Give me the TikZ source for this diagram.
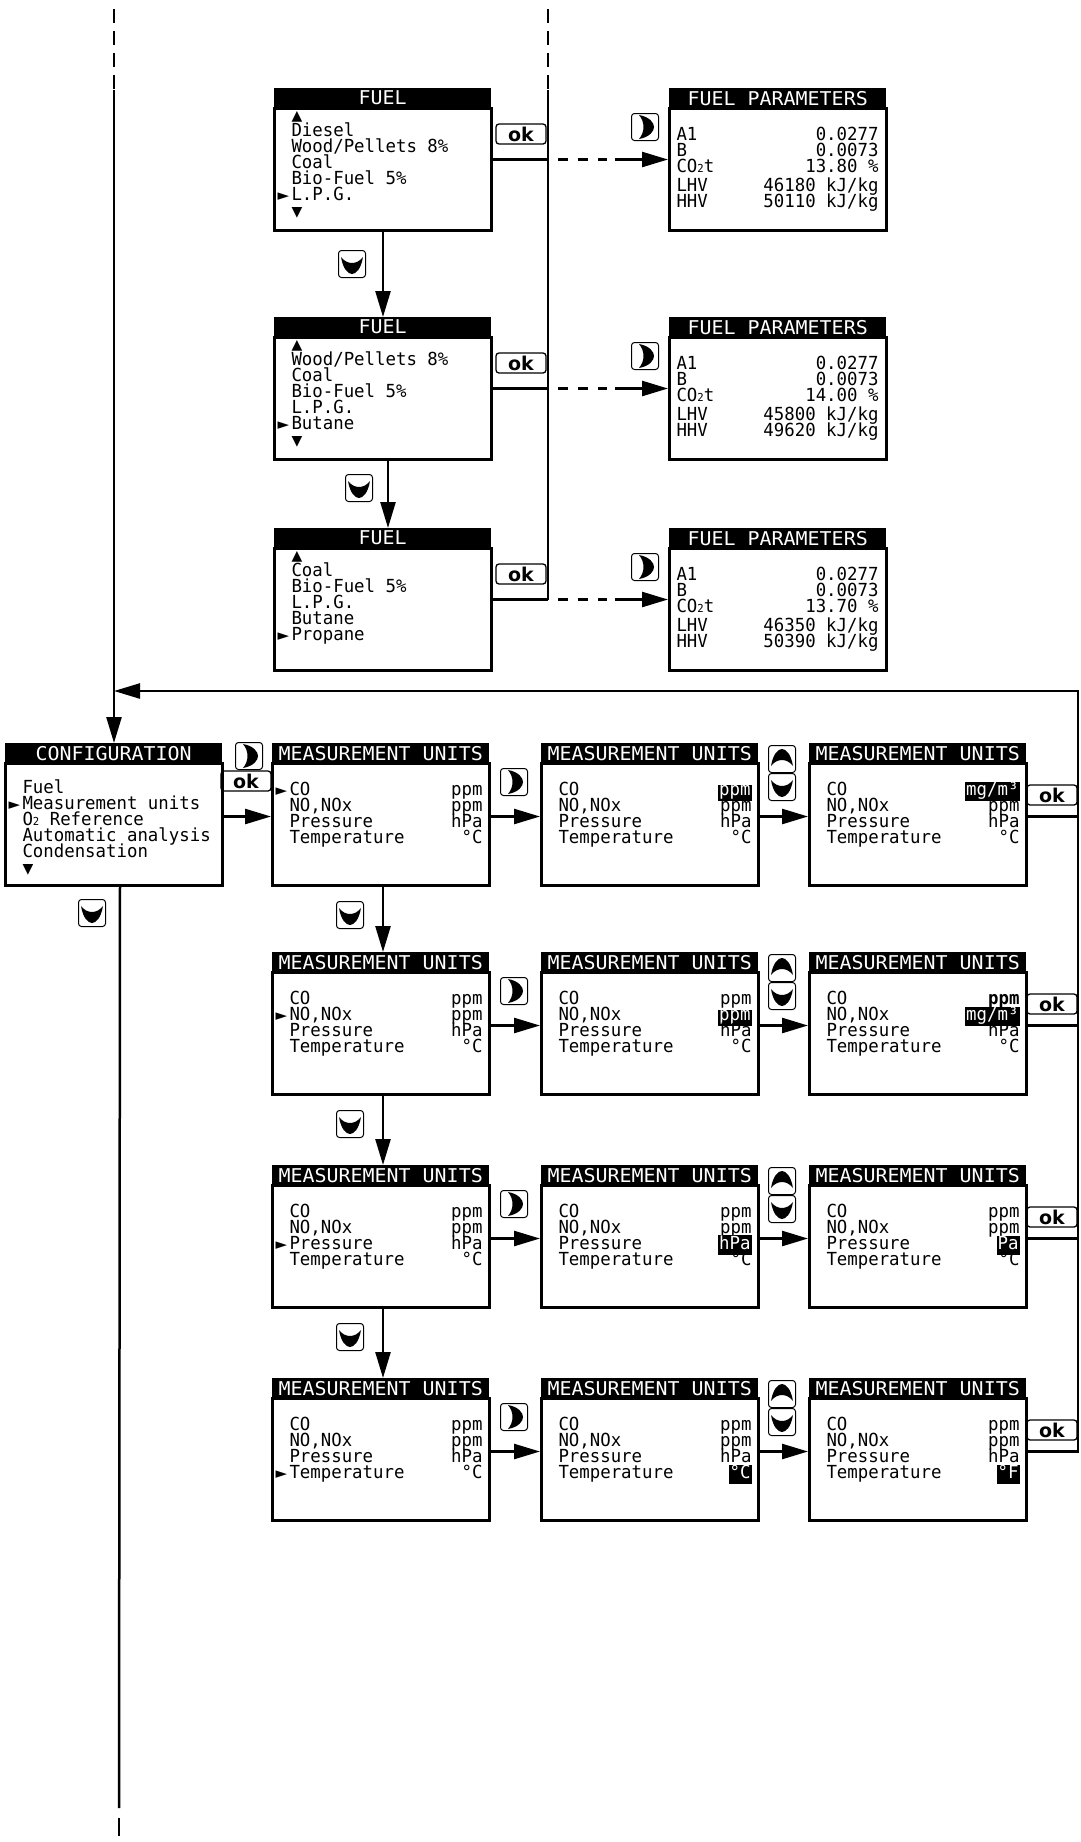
\documentclass[tikz,border=0pt]{standalone}
\usepackage{fontspec}
\usepackage{tikz}
\usetikzlibrary{arrows.meta}
\newfontfamily\lcdfont[FakeStretch=0.965]{DejaVu Sans Mono}
\newfontfamily\lcdhead[FakeStretch=1.05]{DejaVu Sans Mono}
\newfontfamily\symfont{DejaVu Sans}
\newfontfamily\keyfont{DejaVu Sans}

\newcommand*{\arrup}{{\symfont\fontsize{14}{14}\selectfont ▲}}
\newcommand*{\arrdn}{{\symfont\fontsize{14}{14}\selectfont ▼}}
\newcommand*{\curs}{{\symfont\fontsize{15}{15}\selectfont ►}}
\newcommand*{\subtwo}{{\fontsize{11}{11}\selectfont 2}}
\newcommand*{\inv}[1]{{\setlength{\fboxsep}{1pt}\smash{\colorbox{black}{\rule[-4pt]{0pt}{13pt}\textcolor{white}{#1}}}}}
\newcommand*{\scrline}[3]{\mbox{}\hspace*{3pt}\makebox[207pt][l]{\rule[-3pt]{0pt}{13pt}\makebox[14pt][l]{#1}#2\hfill#3}\par}
\newcommand*{\parline}[2]{\mbox{}\hspace*{7pt}\makebox[202pt][l]{\rule[-3pt]{0pt}{13pt}#1\hfill#2}\par}
% name, x, y (top of title), title, top gap, lines
\newcommand{\lcdscreen}[6]{%
  \node (#1) at (#2,#3+19) [scrbody] {\parbox[t][122pt][t]{217pt}{\lineskiplimit=-100pt\parskip=0pt\vspace*{#5pt}#6}};
  \node (#1t) at (#2+1,#3) [scrhead] {#4};
}
% name, x, y, cursor line, four units
\newcommand{\muscreen}[8]{%
  \lcdscreen{#1}{#2}{#3}{MEASUREMENT UNITS}{19}{%
    \scrline{\ifnum#4=1 \curs\fi}{CO}{#5}
    \scrline{\ifnum#4=2 \curs\fi}{NO,NOx}{#6}
    \scrline{\ifnum#4=3 \curs\fi}{Pressure}{#7}
    \scrline{\ifnum#4=4 \curs\fi}{Temperature}{#8}}%
}
% keys
\newcommand*{\rkey}[2]{%
  \node (#1) at (#2) [keybox] {};
  \fill[shift={(#1.center)}] (-6,-12) .. controls (5,-10) and (9,-4) .. (9,0)
    .. controls (9,4) and (5,10) .. (-6,12) .. controls (0,5) and (0,-5) .. cycle;
}
\newcommand*{\dnkey}[2]{%
  \node (#1) at (#2) [keybox] {};
  \fill[shift={(#1.center)}] (-11,-7) .. controls (-9,5) and (-4,10) .. (0,10)
    .. controls (4,10) and (9,5) .. (11,-7) .. controls (5,1) and (-5,1) .. cycle;
}
\newcommand*{\upkey}[2]{%
  \node (#1) at (#2) [keybox] {};
  \fill[shift={(#1.center)}] (-11,7) .. controls (-9,-5) and (-4,-10) .. (0,-10)
    .. controls (4,-10) and (9,-5) .. (11,7) .. controls (5,-1) and (-5,-1) .. cycle;
}

\begin{document}
\begin{tikzpicture}[
   x=1pt, y=-1pt,
   conn/.style={line width=2.5pt},
   arrow/.style={conn, -{Triangle[length=26pt, width=15pt]}},
   dashtop/.style={conn, dash pattern=on 14pt off 8pt},
   scrbody/.style={draw, line width=3pt, anchor=north west, inner sep=0pt,
                   font={\lcdfont\fontsize{18}{16}\selectfont}},
   scrhead/.style={fill=black, text=white, anchor=north west, inner sep=0pt,
                   minimum width=217, minimum height=20,
                   font={\lcdhead\fontsize{19}{19}\selectfont}},
   keybox/.style={draw, line width=1pt, rounded corners=3pt, minimum size=27, inner sep=0pt},
   okbtn/.style={draw, line width=1.3pt, rounded corners=3pt, minimum width=50,
                 minimum height=20, inner sep=0pt,
                 font={\keyfont\bfseries\fontsize{19}{19}\selectfont}}
  ]

  \useasboundingbox (0,0) rectangle (1080,1842);

  % Fuel screens
  \lcdscreen{fuelA}{273}{88}{FUEL}{2}{%
    \scrline{}{\arrup}{}
    \scrline{}{Diesel}{}
    \scrline{}{Wood/Pellets 8\%}{}
    \scrline{}{Coal}{}
    \scrline{}{Bio-Fuel 5\%}{}
    \scrline{\curs}{L.P.G.}{}
    \scrline{}{\arrdn}{}}
  \lcdscreen{fuelB}{273}{317}{FUEL}{2}{%
    \scrline{}{\arrup}{}
    \scrline{}{Wood/Pellets 8\%}{}
    \scrline{}{Coal}{}
    \scrline{}{Bio-Fuel 5\%}{}
    \scrline{}{L.P.G.}{}
    \scrline{\curs}{Butane}{}
    \scrline{}{\arrdn}{}}
  \lcdscreen{fuelC}{273}{528}{FUEL}{2}{%
    \scrline{}{\arrup}{}
    \scrline{}{Coal}{}
    \scrline{}{Bio-Fuel 5\%}{}
    \scrline{}{L.P.G.}{}
    \scrline{}{Butane}{}
    \scrline{\curs}{Propane}{}}

  \lcdscreen{parA}{668}{88}{FUEL PARAMETERS}{19}{%
    \parline{A1}{0.0277}
    \parline{B}{0.0073}
    \parline{CO\subtwo t}{13.80 \%}
    \vspace{3pt}
    \parline{LHV}{46180 kJ/kg}
    \parline{HHV}{50110 kJ/kg}}
  \lcdscreen{parB}{668}{317}{FUEL PARAMETERS}{19}{%
    \parline{A1}{0.0277}
    \parline{B}{0.0073}
    \parline{CO\subtwo t}{14.00 \%}
    \vspace{3pt}
    \parline{LHV}{45800 kJ/kg}
    \parline{HHV}{49620 kJ/kg}}
  \lcdscreen{parC}{668}{528}{FUEL PARAMETERS}{19}{%
    \parline{A1}{0.0277}
    \parline{B}{0.0073}
    \parline{CO\subtwo t}{13.70 \%}
    \vspace{3pt}
    \parline{LHV}{46350 kJ/kg}
    \parline{HHV}{50390 kJ/kg}}

  % Configuration screen
  \lcdscreen{cfg}{4}{743}{CONFIGURATION}{16}{%
    \scrline{}{Fuel}{}
    \scrline{\curs}{Measurement units}{}
    \scrline{}{O\subtwo\ Reference}{}
    \scrline{}{Automatic analysis}{}
    \scrline{}{Condensation}{}
    \scrline{}{\arrdn}{}}

  % Measurement units screens
  \muscreen{mu11}{271}{743}{1}{ppm}{ppm}{hPa}{°C}
  \muscreen{mu12}{540}{743}{0}{\inv{ppm}}{ppm}{hPa}{°C}
  \muscreen{mu13}{808}{743}{0}{\inv{mg/m³}}{ppm}{hPa}{°C}
  \muscreen{mu21}{271}{952}{2}{ppm}{ppm}{hPa}{°C}
  \muscreen{mu22}{540}{952}{0}{ppm}{\inv{ppm}}{hPa}{°C}
  \muscreen{mu23}{808}{952}{0}{\textbf{ppm}}{\inv{mg/m³}}{hPa}{°C}
  \muscreen{mu31}{271}{1165}{3}{ppm}{ppm}{hPa}{°C}
  \muscreen{mu32}{540}{1165}{0}{ppm}{ppm}{\inv{hPa}}{°C}
  \muscreen{mu33}{808}{1165}{0}{ppm}{ppm}{\inv{Pa}}{°C}
  \muscreen{mu41}{271}{1378}{4}{ppm}{ppm}{hPa}{°C}
  \muscreen{mu42}{540}{1378}{0}{ppm}{ppm}{hPa}{\inv{°C}}
  \muscreen{mu43}{808}{1378}{0}{ppm}{ppm}{hPa}{\inv{°F}}

  % Free ends
  \coordinate (topL) at (114,9);
  \coordinate (midL) at (114,90);
  \coordinate (topR) at (548,9);
  \coordinate (midR) at (548,90);
  \coordinate (fbL) at (114,691);
  \coordinate (fbT) at (1078,691);
  \coordinate (botL) at (119,1808);
  \coordinate (tailA) at (119,1818);
  \coordinate (tailB) at (119,1836);

  % Fuel branch
  \draw[dashtop] (topR) -- (midR);
  \foreach \s/\y in {A/88, B/317, C/528} {
    \coordinate (l\s) at ([yshift=10pt]fuel\s.east);
    \coordinate (j\s) at (topR |- l\s);
    \coordinate (s\s) at ([xshift=-53pt, yshift=10pt]par\s.west);
    \coordinate (d\s) at ([xshift=-61pt, yshift=10pt]par\s.west);
    \coordinate (e\s) at ([yshift=10pt]par\s.west);
    \draw[conn] (l\s) -- (j\s);
    \draw[conn, dash pattern=on 10pt off 10pt, dash phase=10pt] (j\s) -- (d\s);
    \draw[arrow] (s\s) -- (e\s);
    \node (okF\s) at (521,\y+46) [okbtn] {ok};
    \rkey{kp\s}{645,\y+39}
  }
  \draw[conn] (midR) -- (jC);

  \draw[arrow] (fuelA.south) -- (fuelA.south |- fuelBt.north);
  \coordinate (cB) at ([xshift=5pt]fuelB.south);
  \draw[arrow] (cB) -- (cB |- fuelCt.north);
  \dnkey{kfA}{352,264}
  \dnkey{kfB}{359,488}

  % Main line
  \draw[dashtop] (topL) -- (midL);
  \draw[arrow] (midL) -- (midL |- cfgt.north);
  \coordinate (cb) at ([xshift=6pt]cfg.south);
  \draw[conn] (cb) -- (botL);
  \draw[conn] (tailA) -- (tailB);
  \dnkey{kc}{92,913}

  \draw[arrow] ([yshift=8pt]cfg.east) -- ([yshift=8pt]mu11.west);
  \rkey{kcr}{249,756}
  \node (okC) at (246,781) [okbtn] {ok};

  % Measurement units rows
  \foreach \r/\y in {1/743, 2/952, 3/1165, 4/1378} {
    \draw[arrow] ([yshift=8pt]mu\r1.east) -- ([yshift=8pt]mu\r2.west);
    \draw[arrow] ([yshift=8pt]mu\r2.east) -- ([yshift=8pt]mu\r3.west);
    \coordinate (o\r) at ([yshift=8pt]mu\r3.east);
    \coordinate (q\r) at (fbT |- o\r);
    \rkey{kr\r}{514,\y+39}
    \upkey{ku\r}{782,\y+16}
    \dnkey{kd\r}{782,\y+44}
    \node (okM\r) at (1052,\y+52) [okbtn] {ok};
  }
  \foreach \r in {1,2,3} {
    \draw[conn] (o\r) -- (q\r);
  }
  \draw[arrow] (o4) -| (fbT) -- (fbL);

  \foreach \a/\b/\y in {1/2/743, 2/3/952, 3/4/1165} {
    \coordinate (c\a) at ([xshift=2pt]mu\a1.south);
    \draw[arrow] (c\a) -- (c\a |- mu\b1t.north);
    \dnkey{kv\a}{350,\y+172}
  }

\end{tikzpicture}
\end{document}
